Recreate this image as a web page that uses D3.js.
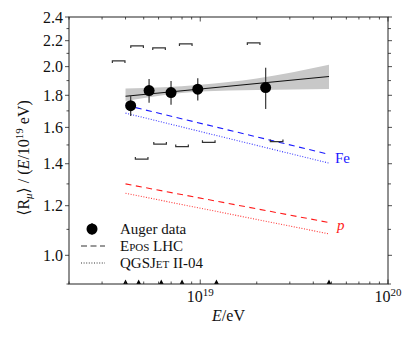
<!DOCTYPE html>
<html>
<head>
<meta charset="utf-8">
<script src="https://cdn.jsdelivr.net/npm/d3@7"></script>
<style>
body { margin: 0; background: #fff; }
</style>
</head>
<body>
<svg id="chart"></svg>
<script>

//Auger points (energy in eV)
var energies = [4.26e18, 5.34e18, 6.99e18, 9.70e18, 22.3e18];
var rmu = [1.733, 1.832, 1.818, 1.841, 1.852];
var rmuErr = [0.065, 0.08, 0.08, 0.075, 0.14];
var sysUp = [2.043, 2.159, 2.143, 2.175, 2.183];
var sysLo = [1.424, 1.504, 1.491, 1.514, 1.518];

//bin edges shown as triangles on the axis
var binEdges = [4.0e18, 4.7e18, 6.2e18, 8.0e18, 12.2e18, 48.5e18];

//power law fit and its band
var fitE = [4.0e18, 48.5e18];
var fitR = [1.794, 1.929];
var bandE = [4.0e18, 10e18, 20e18, 48.5e18];
var bandLo = [1.762, 1.825, 1.835, 1.843];
var bandHi = [1.845, 1.872, 1.915, 2.013];

//model predictions
var modelE = [4.0e18, 48.5e18];
var eposFe = [1.736, 1.449];
var qgsFe = [1.686, 1.403];
var eposP = [1.300, 1.128];
var qgsP = [1.256, 1.082];

var yMajor = [1.0, 1.2, 1.4, 1.6, 1.8, 2.0, 2.2, 2.4];
var yMinor = [0.9, 1.1, 1.3, 1.5, 1.7, 1.9, 2.1, 2.3];
var xMajor = [1e19, 1e20];

var svgWidth = 408;
var svgHeight = 339;
var pLeft = 69, pRight = 388, pTop = 17, pBottom = 284;
var serif = "'Liberation Serif', 'DejaVu Serif', serif";

var svg = d3.select('#chart')
    .attr("width", svgWidth)
    .attr("height", svgHeight)
    .attr("font-family", serif)
    .style("font-family", serif);

var x = d3.scaleLog().domain([2e18, 1e20]).range([pLeft, pRight]);
var y = d3.scaleLog().domain([0.9, 2.4]).range([pBottom, pTop]);

var xMinor = [];
[1e18, 1e19].forEach(function(dec) {
    for (var k = 2; k <= 9; k++) {
        if (k * dec >= 2e18) xMinor.push(k * dec);
    }
});

//gray band of the fit
var bandData = bandE.map(function(e, i) { return {e: e, lo: bandLo[i], hi: bandHi[i]}; });
svg.append("path")
    .datum(bandData)
    .attr("fill", "#c8c8c8")
    .attr("d", d3.area()
        .curve(d3.curveMonotoneX)
        .x(function(d) { return x(d.e); })
        .y0(function(d) { return y(d.lo); })
        .y1(function(d) { return y(d.hi); }));

var line = d3.line()
    .x(function(d) { return x(d[0]); })
    .y(function(d) { return y(d[1]); });

svg.append("path")
    .datum(d3.zip(fitE, fitR))
    .attr("fill", "none")
    .attr("stroke", "#111")
    .attr("stroke-width", 1.1)
    .attr("d", line);

//model lines
var models = [
    {vals: eposFe, color: "#1a1aff", dash: "6,4.5"},
    {vals: qgsFe, color: "#3a3aff", dash: "1,1.6"},
    {vals: eposP, color: "#ff1a1a", dash: "6,4.5"},
    {vals: qgsP, color: "#ff3a3a", dash: "1,1.6"}
];
models.forEach(function(m) {
    svg.append("path")
        .datum(d3.zip(modelE, m.vals))
        .attr("fill", "none")
        .attr("stroke", m.color)
        .attr("stroke-width", 1.1)
        .attr("stroke-dasharray", m.dash)
        .attr("d", line);
});

svg.append("text")
    .attr("x", x(modelE[1]) + 6)
    .attr("y", y(eposFe[1]) + 9)
    .attr("fill", "#1a1aff")
    .attr("font-size", 15)
    .text("Fe");
svg.append("text")
    .attr("x", x(modelE[1]) + 8)
    .attr("y", y(eposP[1]) + 7)
    .attr("fill", "#ff1a1a")
    .attr("font-size", 15)
    .attr("font-style", "italic")
    .text("p");

//systematic brackets, drawn beside each point
var half = 6.3, leg = 2.2, shift = 12;
svg.selectAll(".sysup")
    .data(energies)
    .enter()
    .append("path")
    .attr("fill", "none")
    .attr("stroke", "#333")
    .attr("stroke-width", 1.2)
    .attr("d", function(e, i) {
        var cx = x(e) - shift, cy = y(sysUp[i]);
        return "M" + (cx - half) + "," + (cy + leg) + "V" + cy + "H" + (cx + half) + "V" + (cy + leg);
    });
svg.selectAll(".syslo")
    .data(energies)
    .enter()
    .append("path")
    .attr("fill", "none")
    .attr("stroke", "#333")
    .attr("stroke-width", 1.2)
    .attr("d", function(e, i) {
        var cx = x(e) + shift - 1, cy = y(sysLo[i]);
        return "M" + (cx - half) + "," + (cy - leg) + "V" + cy + "H" + (cx + half) + "V" + (cy - leg);
    });

//error bars and points
svg.selectAll(".err")
    .data(energies)
    .enter()
    .append("line")
    .attr("x1", function(e) { return x(e); })
    .attr("x2", function(e) { return x(e); })
    .attr("y1", function(e, i) { return y(rmu[i] - rmuErr[i]); })
    .attr("y2", function(e, i) { return y(rmu[i] + rmuErr[i]); })
    .attr("stroke", "#444")
    .attr("stroke-width", 1.3);

svg.selectAll(".pt")
    .data(energies)
    .enter()
    .append("circle")
    .attr("cx", function(e) { return x(e); })
    .attr("cy", function(e, i) { return y(rmu[i]); })
    .attr("r", 5.5)
    .attr("fill", "#000");

//bin edge triangles
svg.selectAll(".tri")
    .data(binEdges)
    .enter()
    .append("path")
    .attr("fill", "#000")
    .attr("d", function(e) {
        var cx = x(e);
        return "M" + (cx - 2.3) + "," + pBottom + "L" + (cx + 2.3) + "," + pBottom + "L" + cx + "," + (pBottom - 4.5) + "Z";
    });

//frame
svg.append("rect")
    .attr("x", pLeft).attr("y", pTop)
    .attr("width", pRight - pLeft).attr("height", pBottom - pTop)
    .attr("fill", "none")
    .attr("stroke", "#222")
    .attr("stroke-width", 1);

//ticks
var tickG = svg.append("g").attr("stroke", "#222").attr("stroke-width", 0.8);
yMajor.forEach(function(v) {
    tickG.append("line").attr("x1", pLeft - 4).attr("x2", pLeft).attr("y1", y(v)).attr("y2", y(v));
    tickG.append("line").attr("x1", pRight).attr("x2", pRight + 4).attr("y1", y(v)).attr("y2", y(v));
});
yMinor.forEach(function(v) {
    tickG.append("line").attr("x1", pLeft - 2.5).attr("x2", pLeft).attr("y1", y(v)).attr("y2", y(v));
    tickG.append("line").attr("x1", pRight).attr("x2", pRight + 3).attr("y1", y(v)).attr("y2", y(v));
});
xMinor.forEach(function(v) {
    tickG.append("line").attr("x1", x(v)).attr("x2", x(v)).attr("y1", pBottom).attr("y2", pBottom - 2.5);
    tickG.append("line").attr("x1", x(v)).attr("x2", x(v)).attr("y1", pTop).attr("y2", pTop + 2.5);
});
xMajor.forEach(function(v) {
    tickG.append("line").attr("x1", x(v)).attr("x2", x(v)).attr("y1", pBottom).attr("y2", pBottom - 4.5);
    tickG.append("line").attr("x1", x(v)).attr("x2", x(v)).attr("y1", pTop).attr("y2", pTop + 4.5);
});

//tick labels
svg.selectAll(".ylab")
    .data(yMajor)
    .enter()
    .append("text")
    .attr("x", pLeft - 6)
    .attr("y", function(v) { return y(v) + 5.5; })
    .attr("text-anchor", "end")
    .attr("font-size", 16)
    .attr("fill", "#111")
    .text(function(v) { return v.toFixed(1); });

xMajor.forEach(function(v) {
    var t = svg.append("text")
        .attr("x", x(v))
        .attr("y", pBottom + 18)
        .attr("text-anchor", "middle")
        .attr("font-size", 16)
        .attr("fill", "#111");
    t.append("tspan").text("10");
    t.append("tspan").attr("font-size", 11).attr("dy", -6).text(Math.round(Math.log10(v)));
});

//axis titles
var xt = svg.append("text")
    .attr("x", (pLeft + pRight) / 2)
    .attr("y", 321)
    .attr("text-anchor", "middle")
    .attr("font-size", 16)
    .attr("fill", "#111");
xt.append("tspan").attr("font-style", "italic").text("E");
xt.append("tspan").text("/eV");

var yt = svg.append("text")
    .attr("transform", "translate(29,158) rotate(-90)")
    .attr("text-anchor", "middle")
    .attr("font-size", 16)
    .attr("fill", "#111");
yt.append("tspan").text("\u27E8R");
yt.append("tspan").attr("font-size", 11).attr("font-style", "italic").attr("dy", 3).text("\u03BC");
yt.append("tspan").attr("dy", -3).text("\u27E9 / (");
yt.append("tspan").attr("font-style", "italic").text("E");
yt.append("tspan").text("/10");
yt.append("tspan").attr("font-size", 11).attr("dy", -6).text("19");
yt.append("tspan").attr("dy", 6).text(" eV)");

//legend
var lg = svg.append("g");
lg.append("line").attr("x1", 92).attr("x2", 92).attr("y1", 223).attr("y2", 235)
    .attr("stroke", "#444").attr("stroke-width", 1.3);
lg.append("circle").attr("cx", 92).attr("cy", 229).attr("r", 5.5).attr("fill", "#000");
lg.append("line").attr("x1", 81).attr("x2", 105).attr("y1", 246).attr("y2", 246)
    .attr("stroke", "#333").attr("stroke-width", 1.1).attr("stroke-dasharray", "6,3.5");
lg.append("line").attr("x1", 81).attr("x2", 105).attr("y1", 263).attr("y2", 263)
    .attr("stroke", "#333").attr("stroke-width", 1.1).attr("stroke-dasharray", "1,1.6");

lg.append("text").attr("x", 120).attr("y", 234).attr("font-size", 15).attr("fill", "#111").text("Auger data");
var l2 = lg.append("text").attr("x", 120).attr("y", 251).attr("font-size", 15).attr("fill", "#111");
l2.append("tspan").text("E");
l2.append("tspan").attr("font-size", 11).text("POS");
l2.append("tspan").text(" LHC");
var l3 = lg.append("text").attr("x", 120).attr("y", 268).attr("font-size", 15).attr("fill", "#111");
l3.append("tspan").text("QGSJ");
l3.append("tspan").attr("font-size", 11).text("ET");
l3.append("tspan").text(" II-04");

</script>
</body>
</html>
